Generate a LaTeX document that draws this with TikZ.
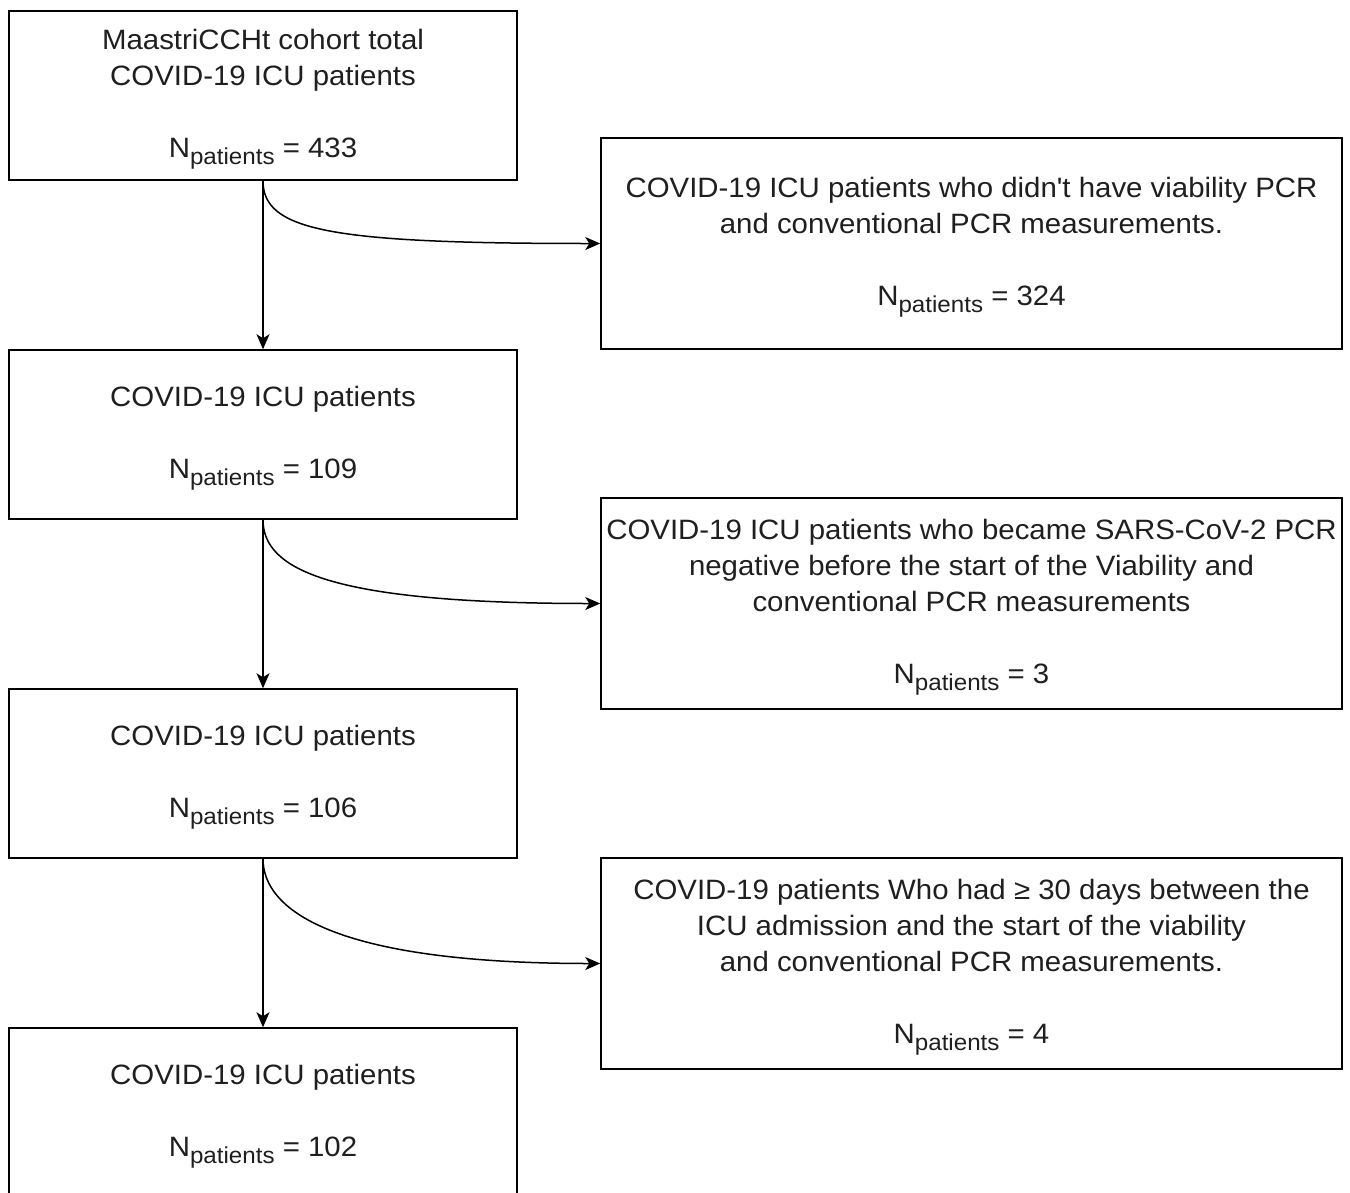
\documentclass[tikz,border=0pt]{standalone}
\usepackage{fontspec}
\setmainfont{Liberation Sans}[FakeStretch=1.05, Ligatures=TeXOff]
\usetikzlibrary{arrows.meta}
% patient count with a lowered "patients" subscript
\newcommand{\npat}[1]{N\raisebox{-0.24em}[0pt][4pt]{\fontsize{23}{23}\selectfont patients} = #1}

\begin{document}
\begin{tikzpicture}[x=1pt,y=-1pt,
  box/.style={draw=black, line width=1.5pt, fill=white, align=center, inner sep=0pt,
    font=\fontsize{28}{36}\selectfont, text=black!88},
  leftbox/.style={box, minimum width=508pt, minimum height=169pt},
  rightbox/.style={box, minimum width=741pt, minimum height=211pt},
  arr/.style={draw=black, line width=1.5pt, -{Stealth[length=15pt, width=13pt, inset=4pt]}}
]
\useasboundingbox (0,0) rectangle (1350,1192);
\clip (0,0) rectangle (1350,1192);
\fill[white] (0,0) rectangle (1350,1192);

% main flow
\node[leftbox] (b1) at (263,95.5) {MaastriCCHt cohort total\\COVID-19 ICU patients\\[36pt]\npat{433}};
\node[leftbox] (b2) at (263,434.5) {COVID-19 ICU patients\\[36pt]\npat{109}};
\node[leftbox] (b3) at (263,773.5) {COVID-19 ICU patients\\[36pt]\npat{106}};
\node[leftbox] (b4) at (263,1112.5) {COVID-19 ICU patients\\[36pt]\npat{102}};

% exclusions
\node[rightbox] (r1) at (971.5,243.5) {COVID-19 ICU patients who didn't have viability PCR\\and conventional PCR measurements.\\[36pt]\npat{324}};
\node[rightbox] (r2) at (971.5,603.5) {COVID-19 ICU patients who became SARS-CoV-2 PCR\\negative before the start of the Viability and\\conventional PCR measurements\\[36pt]\npat{3}};
\node[rightbox] (r3) at (971.5,963.5) {COVID-19 patients Who had ≥ 30 days between the\\ICU admission and the start of the viability\\and conventional PCR measurements.\\[36pt]\npat{4}};

% connectors
\draw[arr] (b1.south) -- (b2.north);
\draw[arr] (b2.south) -- (b3.north);
\draw[arr] (b3.south) -- (b4.north);
\draw[arr] (b1.south) .. controls +(0,50) and +(-270,0) .. (r1.west);
\draw[arr] (b2.south) .. controls +(0,50) and +(-270,0) .. (r2.west);
\draw[arr] (b3.south) .. controls +(0,50) and +(-270,0) .. (r3.west);
\end{tikzpicture}
\end{document}
